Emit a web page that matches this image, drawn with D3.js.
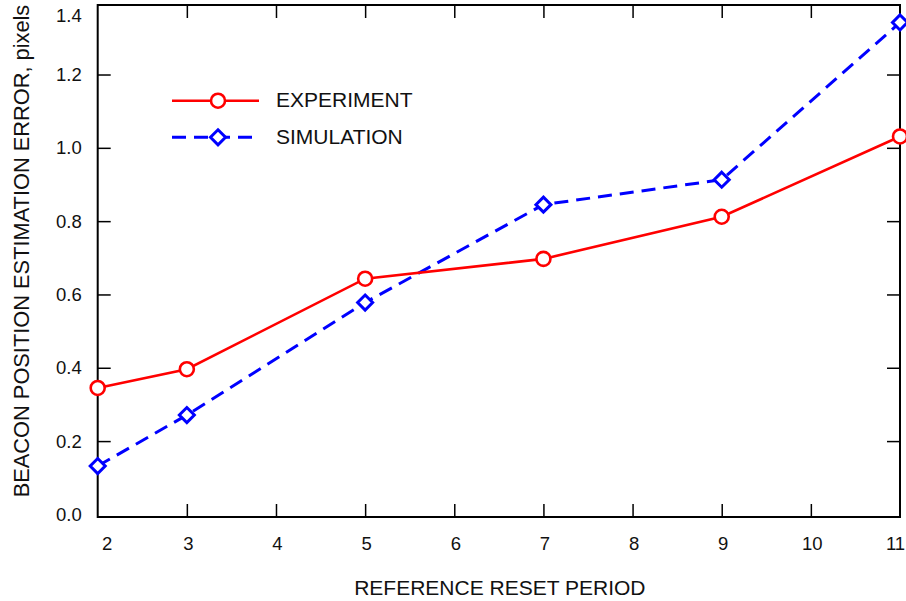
<!DOCTYPE html>
<html><head><meta charset="utf-8">
<script src="https://cdn.jsdelivr.net/npm/d3@7"></script>
<style>
html,body{margin:0;padding:0;background:#fff;}
svg{display:block;font-family:"Liberation Sans",Arial,Helvetica,sans-serif;}
</style></head>
<body>
<svg id="c" width="906" height="601"></svg>
<script>
const periods = [2, 3, 5, 7, 9, 11];
const experiment = [0.345, 0.396, 0.643, 0.697, 0.812, 1.031];
const simulation = [0.132, 0.271, 0.578, 0.845, 0.913, 1.342];
const xTicks = [2, 3, 4, 5, 6, 7, 8, 9, 10, 11];
const yTicks = [0.0, 0.2, 0.4, 0.6, 0.8, 1.0, 1.2, 1.4];
const seriesNames = ["EXPERIMENT", "SIMULATION"];

const svg = d3.select("#c");
const L = 97.7, R = 900, T = 5, B = 517;
const x = d3.scaleLinear().domain([2, 11]).range([L, R]);
const y = d3.scaleLinear().domain([0, 1.4]).range([514.4, 1.2]);

// frame
svg.append("rect").attr("x", L).attr("y", T).attr("width", R - L).attr("height", B - T)
  .attr("fill", "none").attr("stroke", "#000").attr("stroke-width", 2);

// axes
const gx = svg.append("g").attr("transform", `translate(0,${B})`)
  .call(d3.axisBottom(x).tickValues(xTicks).tickFormat(d3.format("d")).tickSize(-13).tickPadding(20));
const gxt = svg.append("g").attr("transform", `translate(0,${T})`)
  .call(d3.axisTop(x).tickValues(xTicks).tickSize(-13).tickFormat(""));
const gy = svg.append("g").attr("transform", `translate(${L},0)`)
  .call(d3.axisLeft(y).tickValues(yTicks).tickFormat(d3.format(".1f")).tickSize(-13).tickPadding(16));
const gyr = svg.append("g").attr("transform", `translate(${R},0)`)
  .call(d3.axisRight(y).tickValues(yTicks).tickSize(-13).tickFormat(""));
[gx, gxt, gy, gyr].forEach(g => {
  g.select(".domain").remove();
  g.selectAll(".tick line").attr("stroke", "#000").attr("stroke-width", 1.5);
  g.selectAll("text").attr("fill", "#111").style("font-size", "18.5px").attr("font-family", null);
});
gx.selectAll(".tick text").attr("dx", d => d === 2 ? 9 : d === 11 ? -5 : 1);
gy.selectAll(".tick text").attr("dy", d => d === 1.4 ? "1.1em" : "0.32em");
gx.selectAll(".tick").filter(d => d === 2 || d === 11).select("line").remove();
gxt.selectAll(".tick").filter(d => d === 2 || d === 11).select("line").remove();
gy.selectAll(".tick").filter(d => d === 0 || d === 1.4).select("line").remove();
gyr.selectAll(".tick").filter(d => d === 0 || d === 1.4).select("line").remove();

// titles
svg.append("text").attr("x", (L + R) / 2 + 1).attr("y", 595).attr("text-anchor", "middle")
  .style("font-size", "21px").attr("fill", "#111").text("REFERENCE RESET PERIOD");
svg.append("text").attr("transform", "translate(28.5,251) rotate(-90)").attr("text-anchor", "middle")
  .style("font-size", "21.8px").attr("fill", "#111").text("BEACON POSITION ESTIMATION ERROR, pixels");

const line = d3.line().x((d, i) => x(periods[i])).y(d => y(d));
const diamond = s => `M0,${-s}L${s},0L0,${s}L${-s},0Z`;

// simulation
svg.append("path").datum(simulation).attr("d", line).attr("fill", "none")
  .attr("stroke", "#0000ff").attr("stroke-width", 3).attr("stroke-dasharray", "14,8");
svg.selectAll(".sim").data(simulation).enter().append("path")
  .attr("transform", (d, i) => `translate(${x(periods[i])},${y(d)})`)
  .attr("d", diamond(7.5)).attr("fill", "#fff").attr("stroke", "#0000ff").attr("stroke-width", 3);

// experiment
svg.append("path").datum(experiment).attr("d", line).attr("fill", "none")
  .attr("stroke", "#ff0000").attr("stroke-width", 2.6);
svg.selectAll(".exp").data(experiment).enter().append("circle")
  .attr("cx", (d, i) => x(periods[i])).attr("cy", d => y(d)).attr("r", 7)
  .attr("fill", "#fff").attr("stroke", "#ff0000").attr("stroke-width", 2.6);

// legend
const lg = svg.append("g");
const legY = [100.7, 137.3];
lg.append("line").attr("x1", 172).attr("x2", 259).attr("y1", legY[0]).attr("y2", legY[0])
  .attr("stroke", "#ff0000").attr("stroke-width", 2.6);
lg.append("circle").attr("cx", 218).attr("cy", legY[0]).attr("r", 7)
  .attr("fill", "#fff").attr("stroke", "#ff0000").attr("stroke-width", 2.6);
lg.append("line").attr("x1", 172).attr("x2", 259).attr("y1", legY[1]).attr("y2", legY[1])
  .attr("stroke", "#0000ff").attr("stroke-width", 3).attr("stroke-dasharray", "14,8");
lg.append("path").attr("transform", `translate(218,${legY[1]})`).attr("d", diamond(7.5))
  .attr("fill", "#fff").attr("stroke", "#0000ff").attr("stroke-width", 3);
seriesNames.forEach((n, i) => {
  lg.append("text").attr("x", 276).attr("y", legY[i] + 6.5)
    .style("font-size", "21px").attr("fill", "#111").text(n);
});
</script>
</body></html>
